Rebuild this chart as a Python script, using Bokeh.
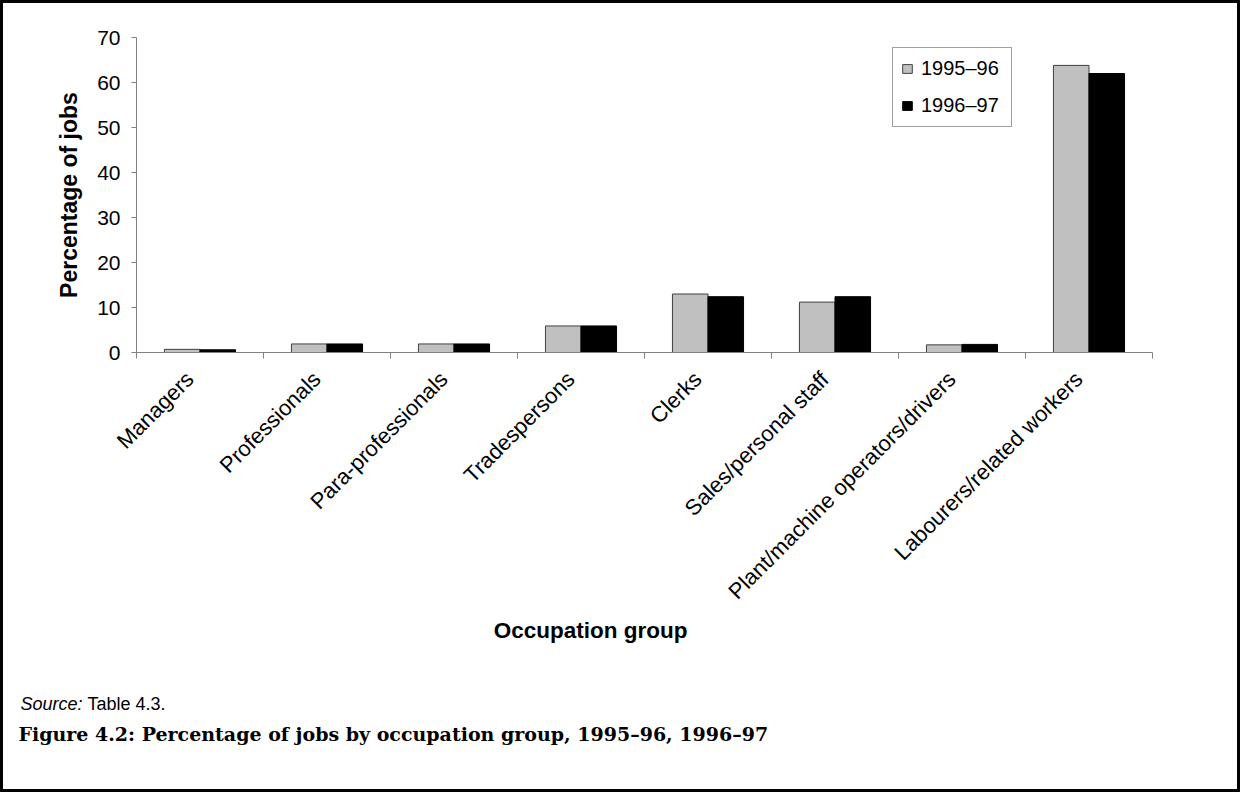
import math
from bokeh.plotting import figure
from bokeh.layouts import column
from bokeh.models import ColumnDataSource, Range1d, FixedTicker, Legend, LegendItem, Label
from bokeh.transform import dodge
from bokeh.embed import file_html
from bokeh.resources import INLINE

categories = ["Managers", "Professionals", "Para-professionals", "Tradespersons",
              "Clerks", "Sales/personal staff", "Plant/machine operators/drivers",
              "Labourers/related workers"]
pct_1995_96 = [0.7, 1.9, 1.9, 5.9, 13.0, 11.2, 1.7, 63.8]
pct_1996_97 = [0.6, 1.9, 1.9, 5.9, 12.4, 12.4, 1.8, 62.0]
series = ["1995–96", "1996–97"]
y_ticks = [0, 10, 20, 30, 40, 50, 60, 70]
x_title = "Occupation group"
y_title = "Percentage of jobs"
source_label = "Source:"
source_text = "Table 4.3."
caption = "Figure 4.2: Percentage of jobs by occupation group, 1995–96, 1996–97"

FONT = "Liberation Sans"
n = len(categories)
centers = [i + 0.5 for i in range(n)]
label_pos = [round(c - 0.08, 3) for c in centers]
src = ColumnDataSource(dict(x=centers, a=pct_1995_96, b=pct_1996_97))

W = 1234
p = figure(width=W, height=612, x_range=Range1d(0, n), y_range=Range1d(0, 70),
           output_backend="svg", toolbar_location=None,
           min_border_left=133, min_border_right=85, min_border_top=34, min_border_bottom=261)
p.frame_align = False
p.outline_line_color = None
p.xgrid.visible = False
p.ygrid.visible = False
p.background_fill_color = "white"

r1 = p.vbar(x=dodge("x", -0.14), top="a", width=0.28, source=src,
            fill_color="#c0c0c0", line_color="#404040", line_width=1)
r2 = p.vbar(x=dodge("x", 0.14), top="b", width=0.28, source=src,
            fill_color="black", line_color="black", line_width=1)

# y axis
ya = p.yaxis[0]
ya.ticker = FixedTicker(ticks=y_ticks)
ya.axis_line_color = "#808080"
ya.major_tick_line_color = "#808080"
ya.major_tick_out = 5
ya.major_tick_in = 0
ya.minor_tick_line_color = None
ya.major_label_standoff = 11
ya.major_label_text_font = FONT
ya.major_label_text_font_size = "21px"
ya.major_label_text_color = "black"
ya.axis_label = y_title
ya.axis_label_text_font = FONT
ya.axis_label_text_font_size = "23px"
ya.axis_label_text_font_style = "bold"
ya.axis_label_text_color = "black"
ya.axis_label_standoff = 12

# x axis: invisible major ticks carry the labels, minor ticks mark category edges
xa = p.xaxis[0]
xa.ticker = FixedTicker(ticks=label_pos, minor_ticks=list(range(n + 1)))
xa.major_label_overrides = {c: name for c, name in zip(label_pos, categories)}
xa.axis_line_color = "#808080"
xa.major_tick_line_color = None
xa.major_tick_out = 0
xa.major_tick_in = 0
xa.minor_tick_line_color = "#808080"
xa.minor_tick_out = 6
xa.minor_tick_in = 0
xa.major_label_orientation = math.pi / 4
xa.major_label_standoff = 17
xa.major_label_text_font = FONT
xa.major_label_text_font_size = "22px"
xa.major_label_text_color = "black"

legend = Legend(items=[LegendItem(label=series[0], renderers=[r1]),
                       LegendItem(label=series[1], renderers=[r2])],
                location=(756, 225))
legend.label_text_font = FONT
legend.label_text_font_size = "20px"
legend.label_text_color = "black"
legend.glyph_width = 12
legend.glyph_height = 11
legend.label_standoff = 8
legend.label_width = 82
legend.label_height = 25
legend.spacing = 12
legend.padding = 8
legend.margin = 0
legend.border_line_color = "#404040"
legend.border_line_width = 1
legend.background_fill_color = "white"
p.add_layout(legend)

# lower text panel (pixel coordinates, y measured from the top)
TH = 174
t = figure(width=W, height=TH, x_range=Range1d(0, W), y_range=Range1d(TH, 0),
           output_backend="svg", toolbar_location=None,
           x_axis_type=None, y_axis_type=None,
           min_border_left=0, min_border_right=0, min_border_top=0, min_border_bottom=0)
t.frame_align = False
t.outline_line_color = None
t.grid.visible = False

t.add_layout(Label(x=587, y=15, text=x_title, text_align="center", text_baseline="alphabetic",
                   text_font=FONT, text_font_size="22.5px", text_font_style="bold",
                   text_color="black"))
t.add_layout(Label(x=17, y=88, text=source_label, text_align="left", text_baseline="alphabetic",
                   text_font=FONT, text_font_size="18px", text_font_style="italic",
                   text_color="black"))
t.add_layout(Label(x=84, y=88, text=source_text, text_align="left", text_baseline="alphabetic",
                   text_font=FONT, text_font_size="18px", text_color="black"))
t.add_layout(Label(x=15, y=118, text=caption, text_align="left", text_baseline="alphabetic",
                   text_font="DejaVu Serif", text_font_size="19px", text_font_style="bold",
                   text_color="black"))

layout = column(p, t, spacing=0, styles={"border": "3px solid black"})
open("out.html", "w").write(file_html(layout, INLINE))
